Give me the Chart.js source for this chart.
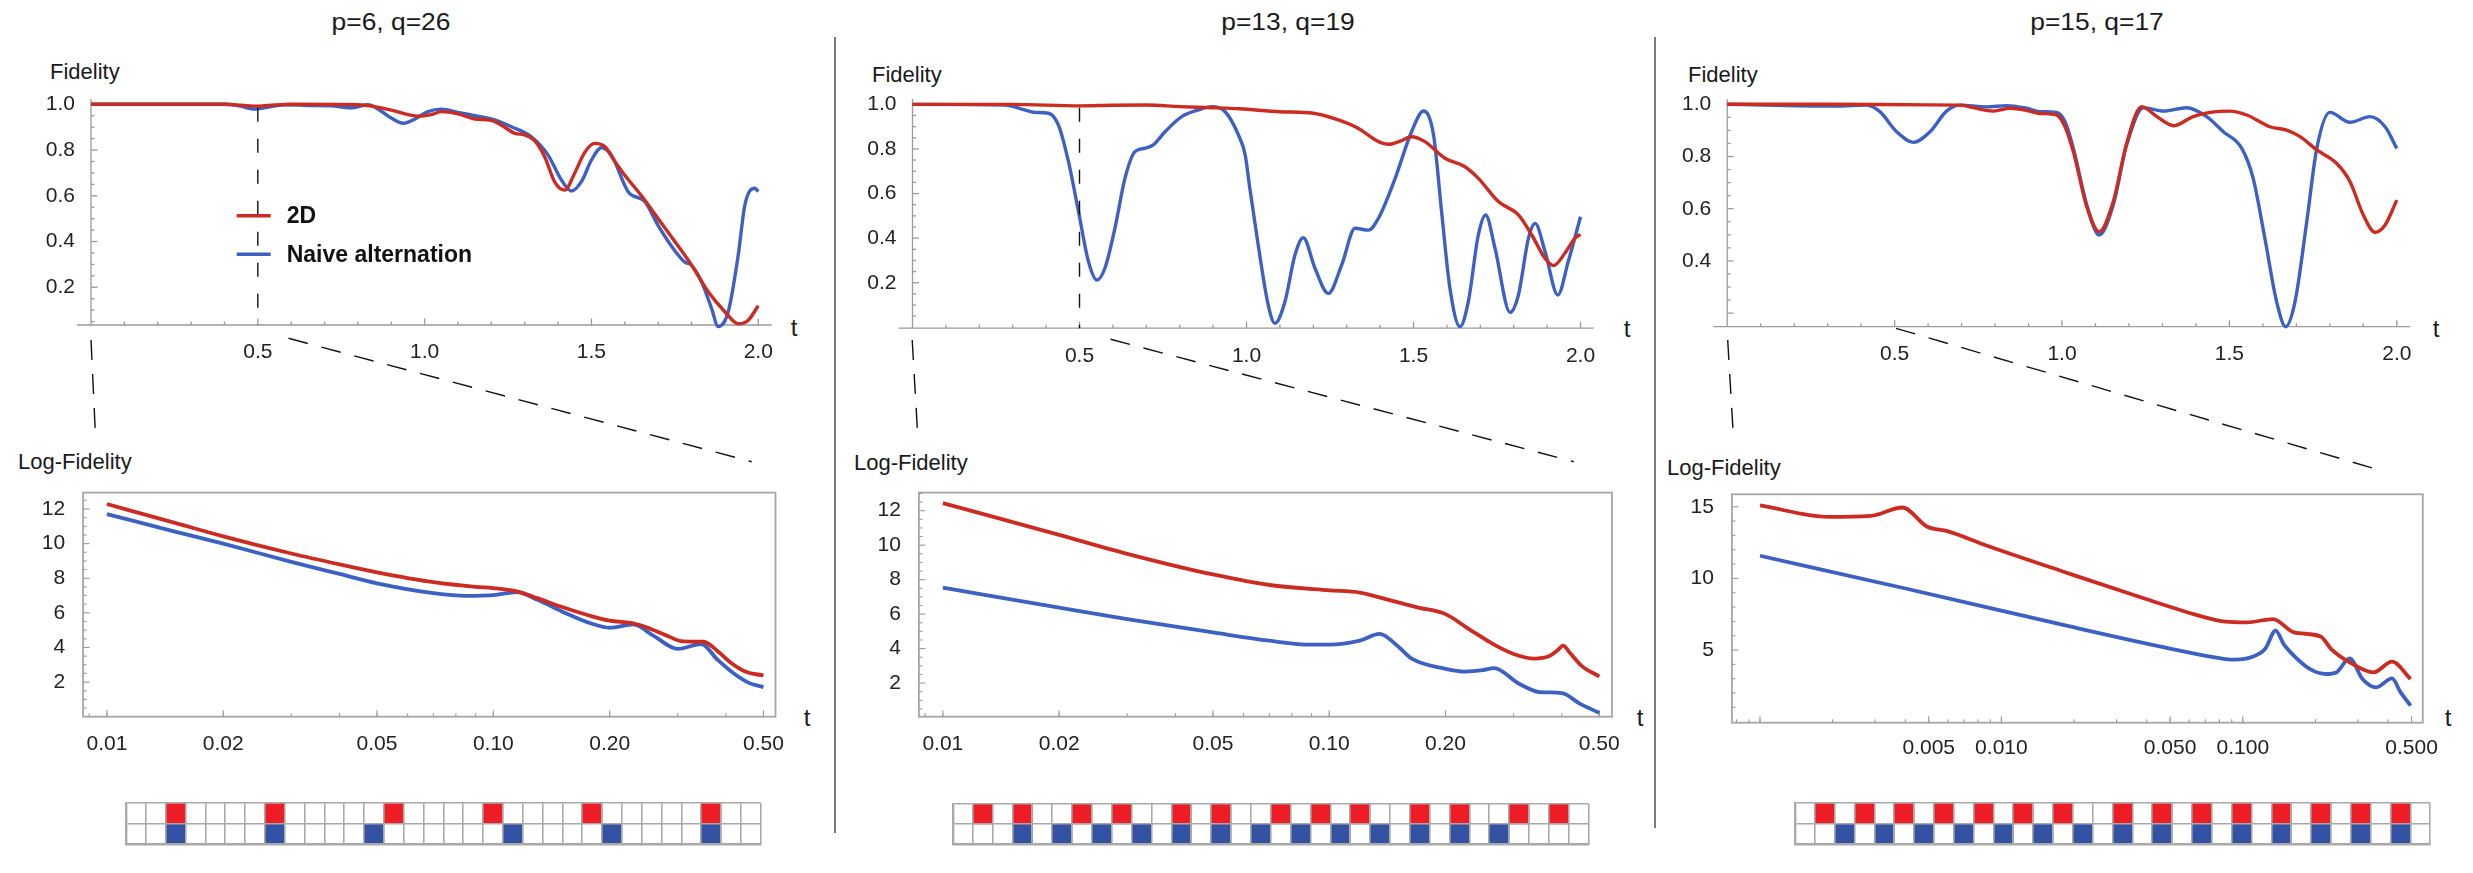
<!DOCTYPE html>
<html>
<head>
<meta charset="utf-8">
<script src="https://cdn.jsdelivr.net/npm/chart.js@4.4.1/dist/chart.umd.min.js"></script>
<style>
  html, body { margin: 0; padding: 0; background: #fff; }
  #page { position: relative; width: 2473px; height: 873px; overflow: hidden;
          font-family: 'Liberation Sans', Arial, sans-serif; color: #1a1a1a; }
  canvas { position: absolute; }
  .lbl { position: absolute; white-space: nowrap; line-height: 1; }
  .title { font-size: 24px; transform: translate(-50%, -50%) scaleX(1.1); }
  .axl { font-size: 22px; transform: translateY(-50%); }
  .tv { font-size: 24px; transform: translate(-50%, -50%); }
  .sep { position: absolute; width: 1.5px; background: #7a7a7a; }
</style>
</head>
<body>
<div id="page">
  <div class="lbl title" style="left:391px;top:22px">p=6, q=26</div>
  <div class="lbl title" style="left:1288px;top:22px">p=13, q=19</div>
  <div class="lbl title" style="left:2097px;top:22px">p=15, q=17</div>

  <div class="lbl axl" style="left:50px;top:72px">Fidelity</div>
  <div class="lbl axl" style="left:872px;top:75px">Fidelity</div>
  <div class="lbl axl" style="left:1688px;top:75px">Fidelity</div>

  <div class="lbl axl" style="left:18px;top:462px">Log-Fidelity</div>
  <div class="lbl axl" style="left:854px;top:463px">Log-Fidelity</div>
  <div class="lbl axl" style="left:1667px;top:468px">Log-Fidelity</div>

  <div class="lbl tv" style="left:794px;top:328px">t</div>
  <div class="lbl tv" style="left:1627px;top:329px">t</div>
  <div class="lbl tv" style="left:2436px;top:329px">t</div>
  <div class="lbl tv" style="left:807px;top:718px">t</div>
  <div class="lbl tv" style="left:1640px;top:718px">t</div>
  <div class="lbl tv" style="left:2448px;top:718px">t</div>

  <div class="sep" style="left:834px;top:37px;height:796px"></div>
  <div class="sep" style="left:1654px;top:37px;height:791px"></div>
</div>
<script>
// ---------- data ----------
const seriesNames = ['2D', 'Naive alternation'];

// p=6, q=26 : fidelity vs t
const p1T2D = [0, 0.2, 0.4, 0.45, 0.5, 0.55, 0.6, 0.8, 0.85, 0.9, 0.95, 0.98, 1.02, 1.05, 1.1, 1.15, 1.2, 1.24, 1.27, 1.3, 1.33, 1.36, 1.39, 1.42, 1.45, 1.48, 1.51, 1.54, 1.57, 1.6, 1.65, 1.7, 1.75, 1.8, 1.85, 1.9, 1.94, 1.97, 2.0];
const p1F2D = [1.0, 1.0, 1.0, 0.996, 0.992, 0.997, 1.0, 0.998, 0.99, 0.975, 0.955, 0.948, 0.955, 0.968, 0.958, 0.936, 0.93, 0.9, 0.873, 0.866, 0.84, 0.77, 0.66, 0.625, 0.70, 0.79, 0.829, 0.815, 0.75, 0.69, 0.6, 0.5, 0.4, 0.297, 0.18, 0.093, 0.04, 0.056, 0.119];
const p1TNaive = [0, 0.2, 0.4, 0.44, 0.49, 0.54, 0.58, 0.65, 0.72, 0.78, 0.83, 0.87, 0.9, 0.936, 0.97, 1.01, 1.05, 1.1, 1.15, 1.2, 1.26, 1.32, 1.37, 1.41, 1.44, 1.47, 1.5, 1.53, 1.56, 1.61, 1.66, 1.7, 1.75, 1.78, 1.8, 1.83, 1.86, 1.88, 1.91, 1.94, 1.96, 1.99, 2.0];
const p1FNaive = [1.0, 1.0, 1.0, 0.995, 0.979, 0.99, 0.998, 0.995, 0.993, 0.985, 0.998, 0.97, 0.94, 0.917, 0.935, 0.968, 0.979, 0.965, 0.95, 0.936, 0.902, 0.858, 0.778, 0.669, 0.621, 0.662, 0.756, 0.81, 0.778, 0.618, 0.574, 0.47, 0.36, 0.31, 0.297, 0.224, 0.108, 0.028, 0.093, 0.341, 0.56, 0.633, 0.618];
// p=6, q=26 : log-fidelity vs t (log axis)
const p1LogT2D = [0.01, 0.015, 0.02, 0.03, 0.04, 0.05, 0.07, 0.09, 0.1, 0.115, 0.13, 0.15, 0.18, 0.2, 0.23, 0.25, 0.28, 0.31, 0.35, 0.38, 0.41, 0.45, 0.5];
const p1Log2D = [12.29, 11.2, 10.42, 9.43, 8.8, 8.34, 7.77, 7.5, 7.43, 7.24, 6.85, 6.35, 5.8, 5.55, 5.4, 5.15, 4.7, 4.35, 4.33, 3.8, 3.15, 2.6, 2.38];
const p1LogTNaive = [0.01, 0.015, 0.02, 0.03, 0.04, 0.05, 0.07, 0.085, 0.1, 0.115, 0.13, 0.15, 0.18, 0.2, 0.23, 0.26, 0.3, 0.345, 0.38, 0.42, 0.46, 0.5];
const p1LogNaive = [11.71, 10.7, 10.0, 8.95, 8.25, 7.71, 7.14, 6.98, 7.02, 7.2, 6.76, 6.1, 5.37, 5.14, 5.33, 4.67, 3.92, 4.2, 3.3, 2.48, 1.94, 1.71];
const p1RedCells = [2, 7, 13, 18, 23, 29];
const p1BlueCells = [2, 7, 12, 19, 24, 29];

// p=13, q=19
const p2T2D = [0, 0.3, 0.5, 0.6, 0.7, 0.8, 0.9, 0.98, 1.1, 1.2, 1.275, 1.335, 1.395, 1.425, 1.46, 1.494, 1.534, 1.594, 1.654, 1.694, 1.754, 1.814, 1.854, 1.894, 1.919, 1.953, 1.983, 2.0];
const p2F2D = [1.0, 1.0, 0.993, 0.996, 0.997, 0.99, 0.985, 0.98, 0.967, 0.96, 0.93, 0.892, 0.833, 0.821, 0.835, 0.855, 0.833, 0.758, 0.72, 0.668, 0.564, 0.504, 0.414, 0.309, 0.277, 0.332, 0.399, 0.417];
const p2TNaive = [0, 0.277, 0.327, 0.367, 0.407, 0.437, 0.467, 0.497, 0.527, 0.552, 0.576, 0.606, 0.636, 0.666, 0.696, 0.721, 0.756, 0.806, 0.856, 0.896, 0.936, 0.976, 0.996, 1.01, 1.035, 1.065, 1.085, 1.115, 1.145, 1.17, 1.205, 1.245, 1.285, 1.325, 1.365, 1.395, 1.445, 1.494, 1.53, 1.56, 1.584, 1.609, 1.639, 1.664, 1.694, 1.716, 1.744, 1.789, 1.814, 1.844, 1.864, 1.894, 1.932, 1.963, 2.0];
const p2FNaive = [1.0, 0.997, 0.979, 0.964, 0.96, 0.907, 0.743, 0.519, 0.294, 0.212, 0.265, 0.444, 0.668, 0.788, 0.803, 0.818, 0.877, 0.945, 0.975, 0.99, 0.967, 0.862, 0.773, 0.623, 0.369, 0.1, 0.018, 0.115, 0.324, 0.402, 0.265, 0.152, 0.28, 0.444, 0.436, 0.489, 0.668, 0.877, 0.97, 0.862, 0.519, 0.175, 0.003, 0.115, 0.414, 0.504, 0.354, 0.067, 0.145, 0.399, 0.466, 0.339, 0.145, 0.294, 0.496];
const p2LogT2D = [0.01, 0.02, 0.03, 0.05, 0.07, 0.1, 0.12, 0.14, 0.17, 0.2, 0.23, 0.27, 0.3, 0.34, 0.37, 0.39, 0.403, 0.42, 0.45, 0.5];
const p2Log2D = [12.44, 10.6, 9.5, 8.3, 7.69, 7.38, 7.25, 6.87, 6.38, 6.0, 5.13, 4.17, 3.69, 3.42, 3.55, 3.9, 4.17, 3.75, 3.0, 2.38];
const p2LogTNaive = [0.01, 0.02, 0.03, 0.05, 0.07, 0.09, 0.1, 0.12, 0.135, 0.15, 0.164, 0.2, 0.225, 0.25, 0.267, 0.31, 0.35, 0.4, 0.445, 0.5];
const p2LogNaive = [7.54, 6.38, 5.71, 4.94, 4.46, 4.23, 4.23, 4.46, 4.85, 4.17, 3.4, 2.83, 2.67, 2.75, 2.87, 1.96, 1.48, 1.42, 0.81, 0.27];
const p2RedCells = [1, 3, 6, 8, 11, 13, 16, 18, 20, 23, 25, 28, 30];
const p2BlueCells = [3, 5, 7, 9, 11, 13, 15, 17, 19, 21, 23, 25, 27];

// p=15, q=17
const p3T2D = [0, 0.3, 0.6, 0.7, 0.735, 0.795, 0.845, 0.9, 0.934, 0.984, 1.009, 1.034, 1.074, 1.111, 1.153, 1.193, 1.238, 1.283, 1.333, 1.392, 1.442, 1.502, 1.552, 1.621, 1.671, 1.711, 1.761, 1.82, 1.86, 1.9, 1.935, 1.965, 2.0];
const p3F2D = [1.0, 1.0, 0.998, 0.997, 0.987, 0.974, 0.985, 0.975, 0.965, 0.959, 0.914, 0.818, 0.608, 0.512, 0.627, 0.85, 0.991, 0.953, 0.918, 0.953, 0.969, 0.974, 0.959, 0.914, 0.901, 0.876, 0.825, 0.774, 0.704, 0.576, 0.51, 0.538, 0.633];
const p3TNaive = [0, 0.327, 0.416, 0.456, 0.506, 0.556, 0.606, 0.655, 0.695, 0.775, 0.835, 0.894, 0.934, 0.984, 1.009, 1.034, 1.074, 1.111, 1.153, 1.193, 1.243, 1.303, 1.372, 1.432, 1.482, 1.537, 1.571, 1.606, 1.641, 1.668, 1.696, 1.731, 1.761, 1.8, 1.86, 1.92, 1.965, 2.0];
const p3FNaive = [1.0, 0.993, 0.997, 0.972, 0.895, 0.854, 0.895, 0.974, 0.997, 0.99, 0.995, 0.985, 0.972, 0.969, 0.933, 0.831, 0.614, 0.499, 0.614, 0.844, 0.987, 0.974, 0.987, 0.953, 0.895, 0.831, 0.716, 0.486, 0.244, 0.148, 0.244, 0.55, 0.831, 0.969, 0.931, 0.953, 0.914, 0.831];
const p3LogT2D = [0.001, 0.00192, 0.00288, 0.00389, 0.00493, 0.00597, 0.00873, 0.0186, 0.0397, 0.0658, 0.0847, 0.1036, 0.1334, 0.1632, 0.21, 0.2324, 0.2773, 0.348, 0.415, 0.4956];
const p3Log2D = [15.1, 14.3, 14.37, 14.95, 13.6, 13.3, 12.28, 10.4, 8.56, 7.4, 6.98, 6.93, 7.16, 6.23, 5.95, 5.07, 4.14, 3.44, 4.19, 2.98];
const p3LogTNaive = [0.001, 0.00409, 0.0186, 0.0511, 0.0847, 0.0935, 0.109, 0.1236, 0.1368, 0.1476, 0.163, 0.19, 0.221, 0.244, 0.277, 0.313, 0.357, 0.415, 0.45, 0.4956];
const p3LogNaive = [11.58, 9.26, 6.7, 5.07, 4.37, 4.33, 4.51, 5.07, 6.35, 5.42, 4.6, 3.67, 3.33, 3.44, 4.42, 2.98, 2.4, 3.02, 2.06, 1.12];
const p3RedCells = [1, 3, 5, 7, 9, 11, 13, 16, 18, 20, 22, 24, 26, 28, 30];
const p3BlueCells = [2, 4, 6, 8, 10, 12, 14, 16, 18, 20, 22, 24, 26, 28, 30];

const cellCount = 32;

// tick labels
const topTicksX = [0.5, 1.0, 1.5, 2.0];
const topTicksY = [0.2, 0.4, 0.6, 0.8, 1.0];
const p3TicksY = [0.4, 0.6, 0.8, 1.0];
const logTicksX = [0.01, 0.02, 0.05, 0.1, 0.2, 0.5];
const p3LogTicksX = [0.005, 0.01, 0.05, 0.1, 0.5];
const logTicksY = [2, 4, 6, 8, 10, 12];
const p3LogTicksY = [5, 10, 15];

// ---------- styling ----------
const RED = '#cc2b22', BLUE = '#3c61c2';
const CELL_RED = '#ee1c24', CELL_BLUE = '#3452a4', CELL_LINE = '#a9a9a9';
const AXIS = '#9a9a9a';
const FONT = "'Liberation Sans', Arial, sans-serif";
const tickFont = { family: FONT, size: 21 };
const TICK_COLOR = '#222';

const page = document.getElementById('page');
function addCanvas(box) {
  const c = document.createElement('canvas');
  c.width = box.width; c.height = box.height;
  c.style.left = box.left + 'px'; c.style.top = box.top + 'px';
  page.appendChild(c);
  return c;
}
// pin the chart area to page coordinates
function fixed(box, area) {
  return {
    layout: { autoPadding: false, padding: { left: 0, top: area.top - box.top, right: box.left + box.width - area.right, bottom: 0 } },
    yw: area.left - box.left,
    xh: box.top + box.height - area.bottom,
  };
}
function seg(ctx, x1, y1, x2, y2) { ctx.beginPath(); ctx.moveTo(x1, y1); ctx.lineTo(x2, y2); ctx.stroke(); }

const mathAxes = {
  id: 'mathAxes',
  beforeDatasetsDraw(chart, args, o) {
    if (!o.kind) return;
    const { ctx, chartArea: a, scales: { x, y } } = chart;
    ctx.save();
    let ox, oy;
    if (o.kind === 'axes') {
      ctx.strokeStyle = AXIS; ctx.lineWidth = 1.3;
      ox = x.getPixelForValue(0); oy = a.bottom;
      seg(ctx, ox - 14, oy, a.right, oy);
      seg(ctx, ox, oy, ox, a.top + 2);
    } else {
      ctx.strokeStyle = '#a6a6a6'; ctx.lineWidth = 1.8;
      ctx.strokeRect(a.left, a.top, a.right - a.left, a.bottom - a.top);
      ctx.strokeStyle = AXIS; ctx.lineWidth = 1.1;
      ox = a.left; oy = a.bottom;
    }
    for (const [v, len] of o.xTicks) {
      const px = x.getPixelForValue(v);
      if (px > a.left + 1 && px <= a.right) seg(ctx, px, oy, px, oy - len);
    }
    for (const [v, len] of o.yTicks) {
      const py = y.getPixelForValue(v);
      if (py < a.bottom - 2 && py >= a.top) seg(ctx, ox, py, ox + len, py);
    }
    ctx.restore();
  },
  afterDraw(chart, args, o) {
    const { ctx, chartArea: a, scales: { x, y } } = chart;
    ctx.save();
    ctx.strokeStyle = '#111'; ctx.lineWidth = 1.4;
    if (o.halfLine) {
      ctx.setLineDash([14, 17]);
      const px = x.getPixelForValue(0.5);
      seg(ctx, px, y.getPixelForValue(0.985), px, a.bottom);
    }
    ctx.setLineDash([20, 14]);
    for (const c of (o.connectors || [])) seg(ctx, c[0], c[1], c[2], c[3]);
    ctx.setLineDash([]);
    if (o.legend) {
      chart.data.datasets.forEach((ds, i) => {
        const ly = o.legend.y + i * o.legend.gap;
        ctx.strokeStyle = ds.borderColor; ctx.lineWidth = 3.5;
        seg(ctx, o.legend.x, ly, o.legend.x + 34, ly);
        ctx.fillStyle = '#111';
        ctx.font = 'bold 23px ' + FONT;
        ctx.textBaseline = 'middle';
        ctx.fillText(ds.label, o.legend.x + 50, ly + 1);
      });
    }
    ctx.restore();
  }
};
Chart.register(mathAxes);

function tickMarks(majors, minors, lMaj, lMin) {
  return majors.map(v => [v, lMaj]).concat(minors.map(v => [v, lMin]));
}
const topMinorX = [];
for (let k = 1; k <= 20; k++) if (k % 5) topMinorX.push(k / 10);
const topMinorY = [];
for (let k = 1; k <= 20; k++) if (k % 4) topMinorY.push(k / 20);
const logMinorX = [];
for (const d of [0.0001, 0.001, 0.01, 0.1]) for (let m = 1; m <= 9; m++) logMinorX.push(+(m * d).toPrecision(3));

function lineSets(list) {
  return list.map(s => ({
    label: s.label,
    data: s.t.map((t, i) => ({ x: t, y: s.f[i] })),
    borderColor: s.color, borderWidth: s.width || 3.4,
    pointRadius: 0, cubicInterpolationMode: 'monotone', clip: false, fill: false,
  }));
}

function makeTop(p) {
  const L = fixed(p.box, p.area);
  const shift = c => [c[0] - p.box.left, c[1] - p.box.top, c[2] - p.box.left, c[3] - p.box.top];
  new Chart(addCanvas(p.box), {
    type: 'line',
    data: { datasets: lineSets(p.series) },
    options: {
      responsive: false, animation: false, events: [],
      layout: L.layout,
      plugins: {
        legend: { display: false }, tooltip: { enabled: false },
        mathAxes: {
          kind: 'axes',
          xTicks: tickMarks(topTicksX, topMinorX, 6.5, 3.5),
          yTicks: tickMarks([0.2, 0.4, 0.6, 0.8, 1.0], topMinorY, 6.5, 3.5),
          halfLine: p.halfLine,
          connectors: p.connectors.map(shift),
          legend: p.legend ? { x: p.legend.x - p.box.left, y: p.legend.y - p.box.top, gap: p.legend.gap } : null,
        },
      },
      scales: {
        x: {
          type: 'linear', min: 0, max: 2.04,
          grid: { display: false }, border: { display: false },
          afterFit: s => { s.height = L.xh; },
          afterBuildTicks: s => { s.ticks = topTicksX.map(v => ({ value: v })); },
          ticks: { autoSkip: false, maxRotation: 0, padding: 7, font: tickFont, color: TICK_COLOR, callback: v => Number(v).toFixed(1) },
        },
        y: {
          type: 'linear', min: p.yMin, max: p.yMax,
          grid: { display: false }, border: { display: false },
          afterFit: s => { s.width = L.yw; },
          afterBuildTicks: s => { s.ticks = p.yLabels.map(v => ({ value: v })); },
          ticks: { autoSkip: false, padding: 8, font: tickFont, color: TICK_COLOR, callback: v => Number(v).toFixed(1) },
        },
      },
    },
  });
}

function makeLog(p) {
  const L = fixed(p.box, p.area);
  new Chart(addCanvas(p.box), {
    type: 'line',
    data: { datasets: lineSets(p.series) },
    options: {
      responsive: false, animation: false, events: [],
      layout: L.layout,
      plugins: {
        legend: { display: false }, tooltip: { enabled: false },
        mathAxes: {
          kind: 'frame',
          xTicks: tickMarks(p.xMajor, logMinorX, 6.5, 3.5),
          yTicks: tickMarks(p.yLabels, p.yMinor, 6.5, 3.5),
        },
      },
      scales: {
        x: {
          type: 'logarithmic', min: p.xMin, max: p.xMax,
          grid: { display: false }, border: { display: false },
          afterFit: s => { s.height = L.xh; },
          afterBuildTicks: s => { s.ticks = p.xLabels.map(v => ({ value: v })); },
          ticks: { autoSkip: false, maxRotation: 0, padding: p.xPad, font: tickFont, color: TICK_COLOR, callback: v => Number(v).toFixed(p.digits) },
        },
        y: {
          type: 'linear', min: p.yMin, max: p.yMax,
          grid: { display: false }, border: { display: false },
          afterFit: s => { s.width = L.yw; },
          afterBuildTicks: s => { s.ticks = p.yLabels.map(v => ({ value: v })); },
          ticks: { autoSkip: false, padding: 10, font: tickFont, color: TICK_COLOR, callback: v => String(v) },
        },
      },
    },
  });
}

function makeCells(p) {
  const L = fixed(p.box, p.area);
  const labels = Array.from({ length: cellCount }, (_, i) => String(i));
  const row = (cells, lo) => labels.map((_, i) => cells.includes(i) ? [lo, lo + 1] : null);
  const gridOpts = { color: CELL_LINE, lineWidth: 1.6, drawTicks: false, z: 1 };
  new Chart(addCanvas(p.box), {
    type: 'bar',
    data: {
      labels,
      datasets: [
        { label: seriesNames[0], data: row(p.red, 1), backgroundColor: CELL_RED },
        { label: seriesNames[1], data: row(p.blue, 0), backgroundColor: CELL_BLUE },
      ],
    },
    options: {
      responsive: false, animation: false, events: [],
      layout: L.layout,
      datasets: { bar: { grouped: false, barPercentage: 1, categoryPercentage: 1, borderWidth: 0 } },
      plugins: { legend: { display: false }, tooltip: { enabled: false } },
      scales: {
        x: { grid: Object.assign({ offset: true }, gridOpts), border: { color: CELL_LINE, width: 2.4, z: 2 },
             ticks: { display: false }, afterFit: s => { s.height = L.xh; } },
        y: { min: 0, max: 2, grid: gridOpts, border: { color: CELL_LINE, width: 2.4, z: 2 },
             ticks: { display: false, stepSize: 1 }, afterFit: s => { s.width = L.yw; } },
      },
    },
  });
}

const pair = (t2, f2, tn, fn, w) => [
  { label: seriesNames[0], t: t2, f: f2, color: RED, width: w },
  { label: seriesNames[1], t: tn, f: fn, color: BLUE, width: w },
];

// ---------- top row: fidelity ----------
makeTop({
  box: { left: 0, top: 40, width: 830, height: 440 }, area: { left: 91, top: 97, right: 771.6, bottom: 325 },
  yMin: 0.035, yMax: 1.032, yLabels: topTicksY, halfLine: true,
  connectors: [[91, 340, 95.3, 431.7], [288.5, 338.3, 751.7, 461.7]],
  legend: { x: 236.7, y: 215.7, gap: 38.6 },
  series: pair(p1T2D, p1F2D, p1TNaive, p1FNaive),
});
makeTop({
  box: { left: 836, top: 40, width: 816, height: 440 }, area: { left: 912.5, top: 97, right: 1593.9, bottom: 328.2 },
  yMin: -0.004, yMax: 1.033, yLabels: topTicksY, halfLine: true,
  connectors: [[912.2, 340, 917.5, 431.7], [1110.6, 339.3, 1573.8, 461.7]],
  series: pair(p2T2D, p2F2D, p2TNaive, p2FNaive),
});
makeTop({
  box: { left: 1657, top: 40, width: 816, height: 440 }, area: { left: 1727.2, top: 97, right: 2410.2, bottom: 326.7 },
  yMin: 0.148, yMax: 1.028, yLabels: p3TicksY, halfLine: false,
  connectors: [[1727.7, 340, 1733, 430], [1896, 328.3, 2373.5, 468.3]],
  series: pair(p3T2D, p3F2D, p3TNaive, p3FNaive),
});

// ---------- middle row: log-fidelity ----------
const halfSteps = [];
for (let k = 1; k <= 26; k++) if (k % 4) halfSteps.push(k / 2);
const unitSteps = [];
for (let k = 1; k <= 15; k++) if (k % 5) unitSteps.push(k);

makeLog({
  box: { left: 0, top: 470, width: 800, height: 300 }, area: { left: 83.1, top: 490, right: 775.5, bottom: 716.7 },
  xMin: 0.008678, xMax: 0.5372, yMin: 0, yMax: 12.95, xLabels: logTicksX, xMajor: logTicksX, digits: 2, xPad: 7,
  yLabels: logTicksY, yMinor: halfSteps,
  series: pair(p1LogT2D, p1Log2D, p1LogTNaive, p1LogNaive, 3.8),
});
makeLog({
  box: { left: 836, top: 470, width: 800, height: 300 }, area: { left: 918.9, top: 490.7, right: 1611.9, bottom: 716.7 },
  xMin: 0.00867, xMax: 0.539, yMin: 0.05, yMax: 13.05, xLabels: logTicksX, xMajor: logTicksX, digits: 2, xPad: 7,
  yLabels: logTicksY, yMinor: halfSteps,
  series: pair(p2LogT2D, p2Log2D, p2LogTNaive, p2LogNaive, 3.8),
});
makeLog({
  box: { left: 1657, top: 470, width: 800, height: 300 }, area: { left: 1731.9, top: 494.3, right: 2422.8, bottom: 722.7 },
  xMin: 0.000765, xMax: 0.5567, yMin: -0.07, yMax: 15.87, xLabels: p3LogTicksX, xMajor: [0.001, 0.005, 0.01, 0.05, 0.1, 0.5], digits: 3, xPad: 5,
  yLabels: p3LogTicksY, yMinor: unitSteps,
  series: pair(p3LogT2D, p3Log2D, p3LogTNaive, p3LogNaive, 3.8),
});

// ---------- bottom row: pulse patterns ----------
makeCells({ box: { left: 120, top: 797, width: 647, height: 53 }, area: { left: 126, top: 803.3, right: 760.7, bottom: 844 }, red: p1RedCells, blue: p1BlueCells });
makeCells({ box: { left: 947, top: 797, width: 648, height: 53 }, area: { left: 952.8, top: 804, right: 1588.6, bottom: 844 }, red: p2RedCells, blue: p2BlueCells });
makeCells({ box: { left: 1789, top: 797, width: 648, height: 53 }, area: { left: 1794.9, top: 803.3, right: 2430.2, bottom: 844 }, red: p3RedCells, blue: p3BlueCells });
</script>
</body>
</html>
